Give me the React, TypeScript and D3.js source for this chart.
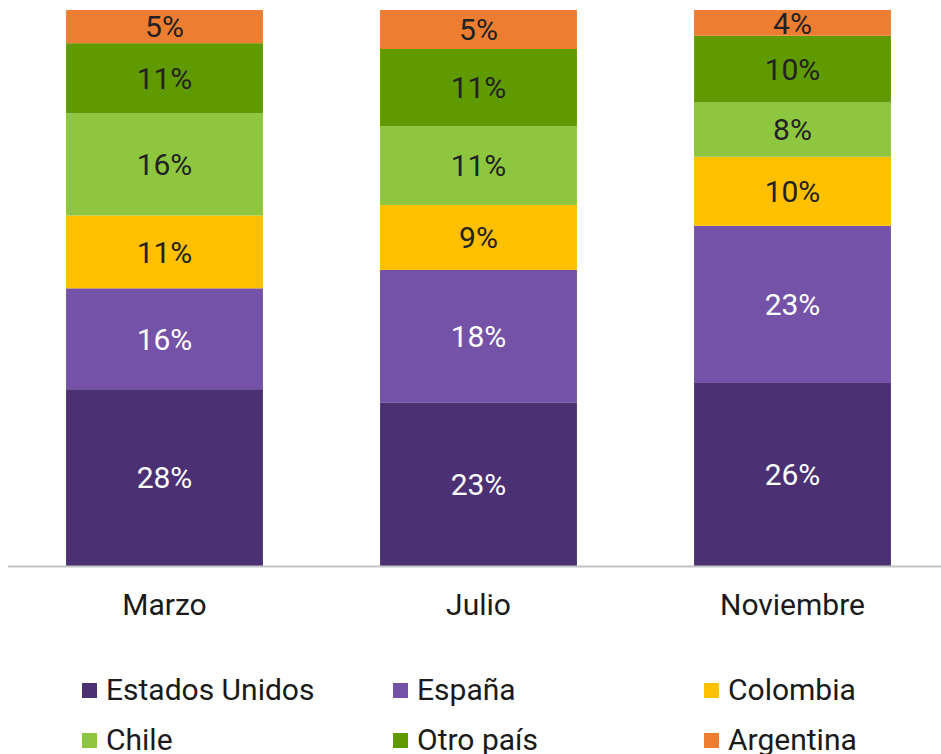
import React from "react";
import * as d3 from "d3";

const categories = ["Marzo", "Julio", "Noviembre"];
const seriesNames = ["Estados Unidos", "España", "Colombia", "Chile", "Otro país", "Argentina"];
// Values (labels show them rounded)
const estadosUnidos = [27.7, 22.6, 26.3];
const espana = [15.8, 18.4, 22.6];
const colombia = [11.4, 9.0, 9.9];
const chile = [16.0, 10.9, 7.8];
const otroPais = [11.0, 10.7, 9.6];
const argentina = [5.2, 5.4, 3.7];
const seriesColors = ["#4B3173", "#7452A7", "#FFC000", "#8EC63F", "#5F9A00", "#ED7D31"];
const labelColors = ["#ffffff", "#ffffff", "#222222", "#222222", "#222222", "#222222"];

const W = 941;
const H = 754;
const FONT = "Roboto, 'Noto Sans', sans-serif";

export default function App() {
  const seriesValues = [estadosUnidos, espana, colombia, chile, otroPais, argentina];
  const rows = categories.map((c, i) => {
    const r: any = { category: c };
    seriesNames.forEach((s, k) => (r[s] = seriesValues[k][i]));
    return r;
  });
  const stack = d3.stack<any>().keys(seriesNames).offset(d3.stackOffsetExpand);
  const layers = stack(rows);

  const x = d3
    .scaleBand<string>()
    .domain(categories)
    .range([7.5, 949.5])
    .paddingInner(0.373)
    .paddingOuter(0.1865);
  const y = d3.scaleLinear().domain([0, 1]).range([566, 10]);

  const legendX = [82, 393, 704];
  const legendY = [683, 733];

  return (
    <svg
      width={W}
      height={H}
      style={{ position: "absolute", left: 0, top: 0, background: "#fff" }}
      fontFamily={FONT}
    >
      {layers.map((layer, k) => (
        <g key={seriesNames[k]}>
          {layer.map((d, i) => {
            const x0 = x(categories[i])!;
            const y0 = y(d[1]);
            const y1 = y(d[0]);
            return (
              <g key={i}>
                <rect x={x0} y={y0} width={x.bandwidth()} height={y1 - y0} fill={seriesColors[k]} />
                <text
                  x={x0 + x.bandwidth() / 2}
                  y={(y0 + y1) / 2}
                  dy="0.36em"
                  textAnchor="middle"
                  fontSize={30}
                  fill={labelColors[k]}
                >
                  {`${Math.round(seriesValues[k][i])}%`}
                </text>
              </g>
            );
          })}
        </g>
      ))}
      <line x1={8} x2={941} y1={566.5} y2={566.5} stroke="#c4c4c4" strokeWidth={2} />
      {categories.map((c) => (
        <text
          key={c}
          x={x(c)! + x.bandwidth() / 2}
          y={615}
          textAnchor="middle"
          fontSize={30}
          fill="#1a1a1a"
        >
          {c}
        </text>
      ))}
      {seriesNames.map((s, k) => {
        const col = k % 3;
        const row = Math.floor(k / 3);
        return (
          <g key={s} transform={`translate(${legendX[col]},${legendY[row]})`}>
            <rect x={0} y={0} width={15} height={15} fill={seriesColors[k]} />
            <text x={24} y={16.5} fontSize={30} fill="#1a1a1a">
              {s}
            </text>
          </g>
        );
      })}
    </svg>
  );
}
